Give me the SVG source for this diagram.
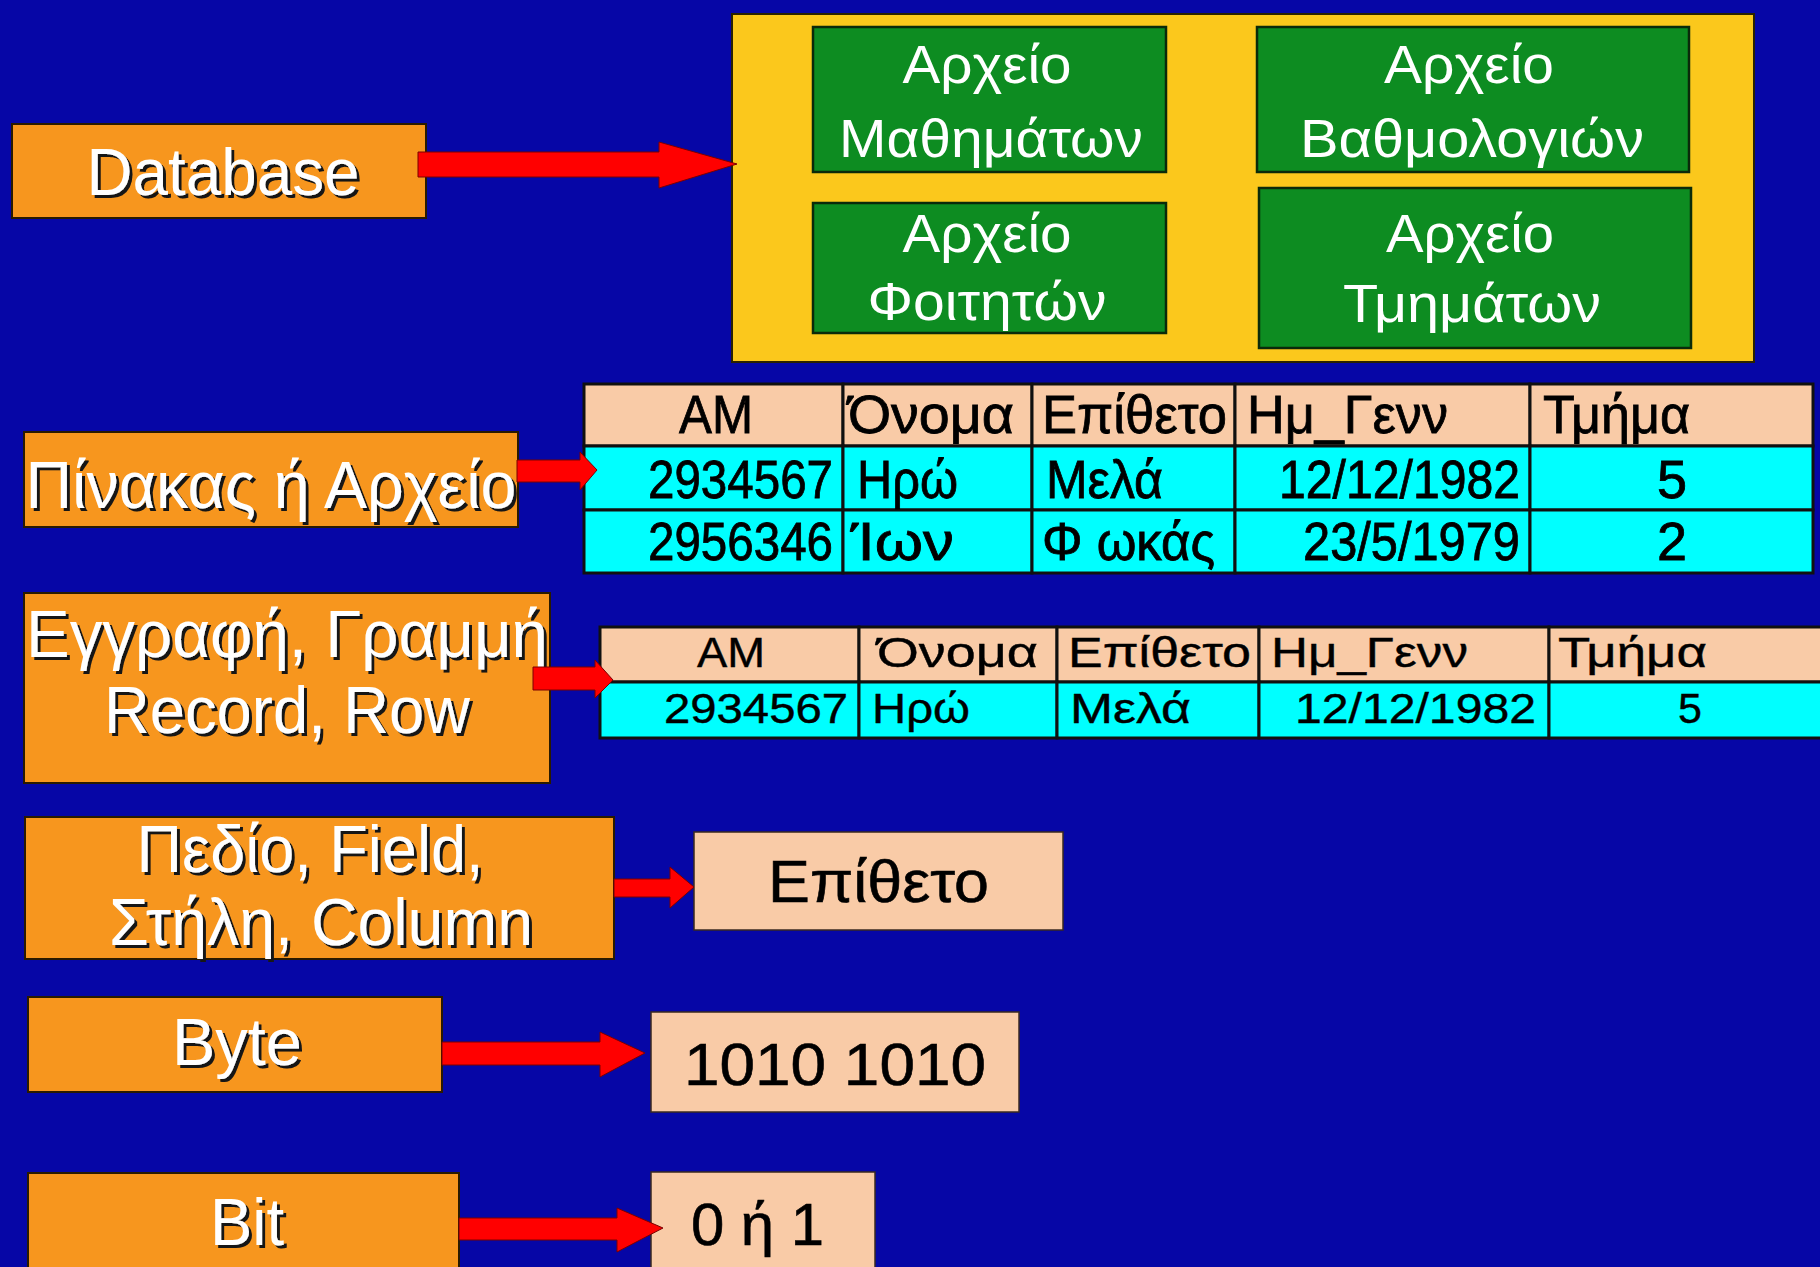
<svg xmlns="http://www.w3.org/2000/svg" width="1820" height="1267" viewBox="0 0 1820 1267">
  <defs>
    <style>
      .bg { fill: #0606A6; }
      .label { fill: #F7961E; stroke: #2A1A00; stroke-width: 2; }
      .value { fill: #F9CBA7; stroke: #3A2A20; stroke-width: 1.5; }
      .db { fill: #FBC81C; stroke: #2A2200; stroke-width: 2; }
      .file { fill: #0D8C21; stroke: #0A2A0A; stroke-width: 2.5; }
      .hdr { fill: #F9CBA7; stroke: #101010; stroke-width: 3; }
      .row { fill: #00FFFF; stroke: #101010; stroke-width: 3; }
      .arrow { fill: #FF0000; stroke: #7A0000; stroke-width: 1; }
      .lt { font-family: "Liberation Sans", Arial, sans-serif; fill: #FFFFFF; text-anchor: middle; font-size: 66px; filter: url(#emboss); }
      .ft { font-family: "Liberation Sans", Arial, sans-serif; fill: #FFFFFF; text-anchor: middle; font-size: 54px; }
      .vt { font-family: "Liberation Sans", Arial, sans-serif; fill: #000000; font-size: 60px; stroke: #000; stroke-width: 0.6; }
      .t1 { font-family: "Liberation Sans", Arial, sans-serif; fill: #000000; font-size: 54px; stroke: #000; stroke-width: 0.8; }
      .t2 { font-family: "Liberation Sans", Arial, sans-serif; fill: #000000; font-size: 43px; stroke: #000; stroke-width: 0.4; }
      .mid { text-anchor: middle; }
    </style>
    <filter id="emboss" x="-5%" y="-10%" width="115%" height="130%">
      <feDropShadow dx="3" dy="3" stdDeviation="0.7" flood-color="#141414" flood-opacity="1"/>
    </filter>
  </defs>

  <rect class="bg" x="0" y="0" width="1820" height="1267"/>

  <!-- database container with its four files -->
  <g id="database-files">
    <rect class="db" x="732" y="14" width="1022" height="348"/>
    <g id="file-courses">
      <rect class="file" x="813" y="27" width="353" height="145"/>
      <text class="ft" x="987" y="83" textLength="169" lengthAdjust="spacingAndGlyphs">Αρχείο</text>
      <text class="ft" x="991" y="157" textLength="304" lengthAdjust="spacingAndGlyphs">Μαθημάτων</text>
    </g>
    <g id="file-grades">
      <rect class="file" x="1257" y="27" width="432" height="145"/>
      <text class="ft" x="1469" y="83" textLength="170" lengthAdjust="spacingAndGlyphs">Αρχείο</text>
      <text class="ft" x="1472" y="157" textLength="344" lengthAdjust="spacingAndGlyphs">Βαθμολογιών</text>
    </g>
    <g id="file-students">
      <rect class="file" x="813" y="203" width="353" height="130"/>
      <text class="ft" x="987" y="252" textLength="169" lengthAdjust="spacingAndGlyphs">Αρχείο</text>
      <text class="ft" x="987" y="320" textLength="239" lengthAdjust="spacingAndGlyphs">Φοιτητών</text>
    </g>
    <g id="file-departments">
      <rect class="file" x="1259" y="188" width="432" height="160"/>
      <text class="ft" x="1470" y="252" textLength="168" lengthAdjust="spacingAndGlyphs">Αρχείο</text>
      <text class="ft" x="1472" y="322" textLength="258" lengthAdjust="spacingAndGlyphs">Τμημάτων</text>
    </g>
  </g>

  <!-- table / file -->
  <g id="table-full">
    <rect class="hdr" x="584" y="384" width="259" height="62"/>
    <rect class="hdr" x="843" y="384" width="189" height="62"/>
    <rect class="hdr" x="1032" y="384" width="203" height="62"/>
    <rect class="hdr" x="1235" y="384" width="295" height="62"/>
    <rect class="hdr" x="1530" y="384" width="283" height="62"/>
    <rect class="row" x="584" y="446" width="259" height="64"/>
    <rect class="row" x="843" y="446" width="189" height="64"/>
    <rect class="row" x="1032" y="446" width="203" height="64"/>
    <rect class="row" x="1235" y="446" width="295" height="64"/>
    <rect class="row" x="1530" y="446" width="283" height="64"/>
    <rect class="row" x="584" y="510" width="259" height="63"/>
    <rect class="row" x="843" y="510" width="189" height="63"/>
    <rect class="row" x="1032" y="510" width="203" height="63"/>
    <rect class="row" x="1235" y="510" width="295" height="63"/>
    <rect class="row" x="1530" y="510" width="283" height="63"/>
    <text class="t1" x="679" y="433" textLength="74" lengthAdjust="spacingAndGlyphs">AM</text>
    <text class="t1" x="848" y="433" textLength="166" lengthAdjust="spacingAndGlyphs">Όνομα</text>
    <text class="t1" x="1042" y="433" textLength="185" lengthAdjust="spacingAndGlyphs">Επίθετο</text>
    <text class="t1" x="1247" y="433" textLength="201" lengthAdjust="spacingAndGlyphs">Ημ_Γενν</text>
    <text class="t1" x="1543" y="433" textLength="147" lengthAdjust="spacingAndGlyphs">Τμήμα</text>
    <text class="t1" x="648" y="498" textLength="185" lengthAdjust="spacingAndGlyphs">2934567</text>
    <text class="t1" x="857" y="498" textLength="101" lengthAdjust="spacingAndGlyphs">Ηρώ</text>
    <text class="t1" x="1046" y="498" textLength="117" lengthAdjust="spacingAndGlyphs">Μελά</text>
    <text class="t1" x="1279" y="498" textLength="241" lengthAdjust="spacingAndGlyphs">12/12/1982</text>
    <text class="t1 mid" x="1672" y="498">5</text>
    <text class="t1" x="648" y="560" textLength="185" lengthAdjust="spacingAndGlyphs">2956346</text>
    <text class="t1" x="851" y="560" textLength="103" lengthAdjust="spacingAndGlyphs">Ίων</text>
    <text class="t1" x="1042" y="560" textLength="173" lengthAdjust="spacingAndGlyphs">Φ ωκάς</text>
    <text class="t1" x="1303" y="560" textLength="217" lengthAdjust="spacingAndGlyphs">23/5/1979</text>
    <text class="t1 mid" x="1672" y="560">2</text>
  </g>

  <!-- single record -->
  <g id="table-record">
    <rect class="hdr" x="600" y="627" width="259" height="55"/>
    <rect class="hdr" x="859" y="627" width="198" height="55"/>
    <rect class="hdr" x="1057" y="627" width="202" height="55"/>
    <rect class="hdr" x="1259" y="627" width="290" height="55"/>
    <rect class="hdr" x="1549" y="627" width="290" height="55"/>
    <rect class="row" x="600" y="682" width="259" height="56"/>
    <rect class="row" x="859" y="682" width="198" height="56"/>
    <rect class="row" x="1057" y="682" width="202" height="56"/>
    <rect class="row" x="1259" y="682" width="290" height="56"/>
    <rect class="row" x="1549" y="682" width="290" height="56"/>
    <text class="t2" x="697" y="667" textLength="68" lengthAdjust="spacingAndGlyphs">AM</text>
    <text class="t2" x="877" y="667" textLength="161" lengthAdjust="spacingAndGlyphs">Όνομα</text>
    <text class="t2" x="1068" y="667" textLength="183" lengthAdjust="spacingAndGlyphs">Επίθετο</text>
    <text class="t2" x="1271" y="667" textLength="197" lengthAdjust="spacingAndGlyphs">Ημ_Γενν</text>
    <text class="t2" x="1558" y="667" textLength="149" lengthAdjust="spacingAndGlyphs">Τμήμα</text>
    <text class="t2" x="664" y="723" textLength="184" lengthAdjust="spacingAndGlyphs">2934567</text>
    <text class="t2" x="872" y="723" textLength="98" lengthAdjust="spacingAndGlyphs">Ηρώ</text>
    <text class="t2" x="1070" y="723" textLength="121" lengthAdjust="spacingAndGlyphs">Μελά</text>
    <text class="t2" x="1295" y="723" textLength="241" lengthAdjust="spacingAndGlyphs">12/12/1982</text>
    <text class="t2 mid" x="1690" y="723">5</text>
  </g>

  <!-- level labels -->
  <g id="label-database">
    <rect class="label" x="12" y="124" width="414" height="94"/>
    <text class="lt" x="223" y="195" textLength="273" lengthAdjust="spacingAndGlyphs">Database</text>
  </g>
  <g id="label-table">
    <rect class="label" x="24" y="432" width="494" height="95"/>
    <text class="lt" x="271" y="508" textLength="491" lengthAdjust="spacingAndGlyphs">Πίνακας ή Αρχείο</text>
  </g>
  <g id="label-record">
    <rect class="label" x="24" y="593" width="526" height="190"/>
    <text class="lt" x="287" y="657" textLength="522" lengthAdjust="spacingAndGlyphs">Εγγραφή, Γραμμή</text>
    <text class="lt" x="287" y="733" textLength="366" lengthAdjust="spacingAndGlyphs">Record, Row</text>
  </g>
  <g id="label-field">
    <rect class="label" x="25" y="817" width="589" height="142"/>
    <text class="lt" x="310" y="872" textLength="347" lengthAdjust="spacingAndGlyphs">Πεδίο, Field,</text>
    <text class="lt" x="321" y="945" textLength="424" lengthAdjust="spacingAndGlyphs">Στήλη, Column</text>
  </g>
  <g id="label-byte">
    <rect class="label" x="28" y="997" width="414" height="95"/>
    <text class="lt" x="237" y="1065" textLength="130" lengthAdjust="spacingAndGlyphs">Byte</text>
  </g>
  <g id="label-bit">
    <rect class="label" x="28" y="1173" width="431" height="100"/>
    <text class="lt" x="247" y="1245" textLength="74" lengthAdjust="spacingAndGlyphs">Bit</text>
  </g>

  <!-- example values -->
  <g id="value-field">
    <rect class="value" x="694" y="832" width="369" height="98"/>
    <text class="vt" x="768" y="902" textLength="221" lengthAdjust="spacingAndGlyphs">Επίθετο</text>
  </g>
  <g id="value-byte">
    <rect class="value" x="651" y="1012" width="368" height="100"/>
    <text class="vt" x="684" y="1085" textLength="302" lengthAdjust="spacingAndGlyphs">1010 1010</text>
  </g>
  <g id="value-bit">
    <rect class="value" x="651" y="1172" width="224" height="100"/>
    <text class="vt" x="691" y="1245" textLength="133" lengthAdjust="spacingAndGlyphs">0 ή 1</text>
  </g>

  <!-- connectors -->
  <g id="connectors">
    <polygon class="arrow" points="418,152 659,152 659,142 737,164 659,188 659,177 418,177"/>
    <polygon class="arrow" points="517,460 580,460 580,452 597,470 580,490 580,482 517,482"/>
    <polygon class="arrow" points="533,667 595,667 595,660 613,680 595,698 595,690 533,690"/>
    <polygon class="arrow" points="614,879 670,879 670,867 694,887 670,908 670,897 614,897"/>
    <polygon class="arrow" points="442,1042 600,1042 600,1032 645,1053 600,1077 600,1065 442,1065"/>
    <polygon class="arrow" points="459,1218 617,1218 617,1208 663,1228 617,1252 617,1240 459,1240"/>
  </g>
</svg>
